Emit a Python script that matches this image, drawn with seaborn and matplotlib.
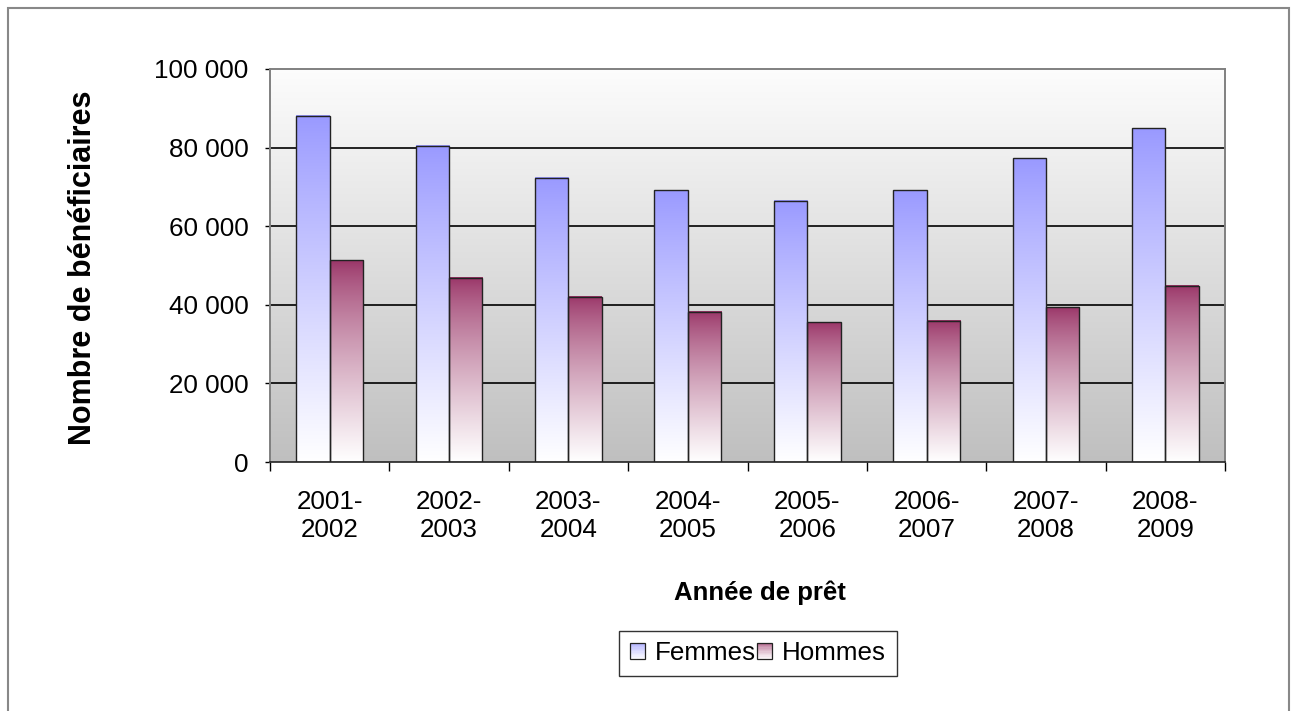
import numpy as np
import pandas as pd
import matplotlib
matplotlib.use("Agg")
import matplotlib.pyplot as plt
import seaborn as sns
from matplotlib.patches import Rectangle, Patch
from matplotlib.ticker import FuncFormatter, FixedLocator
from matplotlib.colors import to_rgb

# Data
annees = ["2001-\n2002", "2002-\n2003", "2003-\n2004", "2004-\n2005",
          "2005-\n2006", "2006-\n2007", "2007-\n2008", "2008-\n2009"]
femmes = [88100, 80500, 72300, 69100, 66500, 69100, 77300, 84900]
hommes = [51300, 46900, 42000, 38200, 35500, 36000, 39400, 44800]

col_femmes = "#9999FF"
col_hommes = "#993366"

df = pd.DataFrame({
    "Annee": annees * 2,
    "Valeur": femmes + hommes,
    "Sexe": ["Femmes"] * len(annees) + ["Hommes"] * len(annees),
})

sns.set_style("white")
plt.rcParams["font.family"] = ["Liberation Sans", "DejaVu Sans"]
plt.rcParams["text.color"] = "black"
plt.rcParams["axes.labelcolor"] = "black"
plt.rcParams["xtick.color"] = "black"
plt.rcParams["ytick.color"] = "black"

fig = plt.figure(figsize=(12.97, 7.11), dpi=100)
ax = fig.add_axes([270 / 1297, 1 - 462 / 711, 955 / 1297, 393 / 711])

sns.barplot(
    data=df,
    x="Annee",
    y="Valeur",
    hue="Sexe",
    palette=[col_femmes, col_hommes],
    saturation=1,
    width=0.56,
    gap=0,
    legend=False,
    ax=ax
)


def gradient(top, n=256, power=1.0):
    c = np.array(to_rgb(top))
    t = np.linspace(0, 1, n) ** power
    g = c[None, :] * (1 - t[:, None]) + np.array([1, 1, 1])[None, :] * t[:, None]
    return g[:, None, :]


grad_f = gradient(col_femmes, power=0.9)
grad_h = gradient(col_hommes, power=0.75)

for p in ax.patches:
    x, w, h = p.get_x(), p.get_width(), p.get_height()
    mid = x + w / 2
    grad = grad_f if mid - round(mid) < 0 else grad_h
    ax.imshow(grad, extent=[x, x + w, 0, h], origin="upper",
              aspect="auto", zorder=2, interpolation="bilinear")
    p.set_facecolor("none")
    p.set_edgecolor("#222222")
    p.set_linewidth(1.0)
    p.set_zorder(3)

# background gradient of the plot area
bg = np.linspace(0, 1, 256)
bg_rgb = np.array([0.99, 0.99, 0.99])[None, :] * (1 - bg[:, None]) + np.array([0.75, 0.75, 0.75])[None, :] * bg[:, None]
ax.imshow(bg_rgb[:, None, :], extent=[-0.5, 7.5, 0, 100000], origin="upper",
          aspect="auto", zorder=0, interpolation="bilinear")

ax.set_xlim(-0.5, 7.5)
ax.set_ylim(0, 100000)
ax.set_yticks([0, 20000, 40000, 60000, 80000, 100000])
ax.yaxis.set_major_formatter(FuncFormatter(lambda v, _: f"{int(v):,}".replace(",", " ")))
for yv in [20000, 40000, 60000, 80000]:
    ax.axhline(yv, color="black", lw=1.2, zorder=1)

ax.xaxis.set_minor_locator(FixedLocator(np.arange(-0.5, 8, 1)))
ax.tick_params(axis="x", which="major", length=0, labelsize=18.7, pad=20)
ax.tick_params(axis="x", which="minor", length=6.5, width=1, color="black", direction="out")
ax.tick_params(axis="y", length=3.6, width=1, color="black", direction="out", labelsize=18.7, pad=12)
ax.xaxis.set_tick_params(bottom=True, which="both")
ax.yaxis.set_tick_params(left=True)

for s in ["left", "top", "right"]:
    ax.spines[s].set_color("#808080")
    ax.spines[s].set_linewidth(1.4)
ax.spines["bottom"].set_color("#222222")
ax.spines["bottom"].set_linewidth(1.2)

ax.set_xlabel("")
ax.set_ylabel("")
fig.text(760 / 1297, 1 - 593 / 711, "Année de prêt", fontsize=18.5, fontweight="bold",
         ha="center", va="center")
fig.text(83 / 1297, 1 - 268 / 711, "Nombre de bénéficiaires", fontsize=22, fontweight="bold",
         rotation=90, ha="center", va="center")


class GradHandler:
    def __init__(self, color, power):
        self.color = np.array(to_rgb(color))
        self.power = power

    def legend_artist(self, legend, orig_handle, fontsize, handlebox):
        x0, y0 = -handlebox.xdescent, -handlebox.ydescent
        w, h = handlebox.width, handlebox.height
        n = 12
        for i in range(n):
            t = 0.25 + 0.75 * ((i + 0.5) / n) ** self.power
            c = self.color * (1 - t) + t
            r = Rectangle([x0, y0 + h - h * (i + 1) / n], w, h / n, facecolor=c,
                          edgecolor="none", transform=handlebox.get_transform())
            handlebox.add_artist(r)
        border = Rectangle([x0, y0], w, h, facecolor="none", edgecolor="#222222",
                           lw=0.9, transform=handlebox.get_transform())
        handlebox.add_artist(border)
        return border


h_f = Patch(label="Femmes")
h_h = Patch(label="Hommes")
leg = fig.legend(
    handles=[h_f, h_h],
    handler_map={h_f: GradHandler(col_femmes, 0.9), h_h: GradHandler(col_hommes, 0.75)},
    loc="center",
    bbox_to_anchor=(758 / 1297, 1 - 653.5 / 711),
    ncol=2,
    fontsize=18.7,
    frameon=True,
    fancybox=False,
    handlelength=0.58,
    handleheight=0.58,
    handletextpad=0.38,
    columnspacing=0.05,
    borderpad=0.42,
    borderaxespad=0,
)
leg.get_frame().set_edgecolor("black")
leg.get_frame().set_linewidth(1.0)

# outer chart border
fig.patches.append(Rectangle((8 / 1297, -0.05), 1281 / 1297, 1 - 8 / 711 + 0.05,
                             transform=fig.transFigure, fill=False,
                             edgecolor="#888888", lw=1.5))

fig.savefig("out.png", dpi=100)
